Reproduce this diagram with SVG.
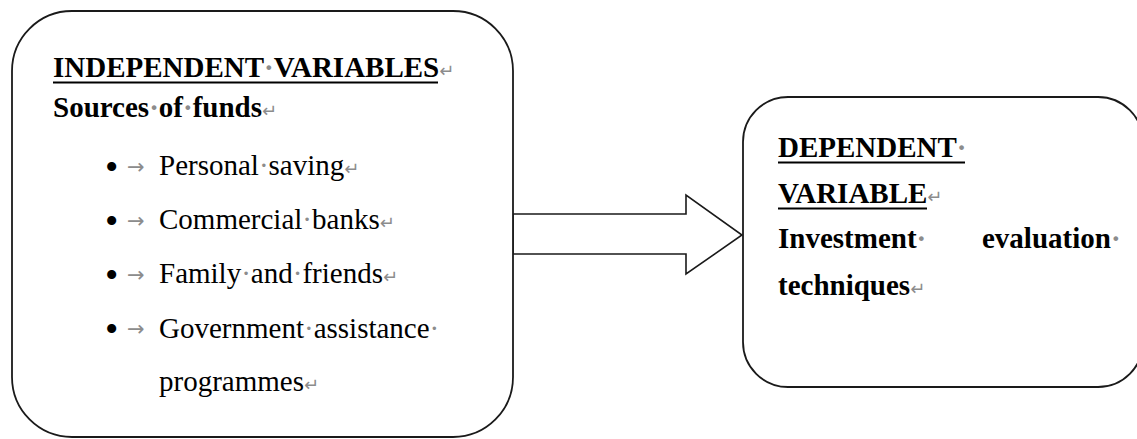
<svg xmlns="http://www.w3.org/2000/svg" width="1137" height="439" viewBox="0 0 1137 439">
<style>
.box{fill:#fff;stroke:#1a1a1a;stroke-width:1.8}
.t{font-family:"Liberation Serif","Times New Roman",serif;font-size:29px;fill:#000}
.b{font-weight:bold}
.m{fill:#8c8c8c}
.pm{fill:#8c8c8c;font-family:"DejaVu Sans",sans-serif;font-size:18px;font-weight:normal}
.tab{fill:#8c8c8c;font-family:"DejaVu Sans",sans-serif;font-size:21px}
.bul{font-family:"Liberation Serif",serif;font-size:38px;fill:#000}
.ul{stroke:#000;stroke-width:2}
.arrow{fill:#fff;stroke:#1a1a1a;stroke-width:1.6;stroke-linejoin:miter}
</style>
<rect width="1137" height="439" fill="#fff"/>
<g id="connectors">
<polygon class="arrow" points="513,214 686,214 686,195 742,235 686,274 686,254 513,254"/>
</g>
<g id="independent">
<rect class="box" x="12" y="11" width="501" height="426" rx="60" ry="60"/>
<text class="t b" x="53" y="77">INDEPENDENT<tspan class="m">·</tspan>VARIABLES<tspan class="pm">↵</tspan></text>
<line class="ul" x1="53" y1="82.5" x2="438" y2="82.5"/>
<text class="t b" x="53" y="117">Sources<tspan class="m">·</tspan>of<tspan class="m">·</tspan>funds<tspan class="pm">↵</tspan></text>
<text class="bul" x="105" y="180">•</text>
<text class="tab" x="127" y="174">→</text>
<text class="t" x="159" y="175">Personal<tspan class="m">·</tspan>saving<tspan class="pm">↵</tspan></text>
<text class="bul" x="105" y="234">•</text>
<text class="tab" x="127" y="228">→</text>
<text class="t" x="159" y="229">Commercial<tspan class="m">·</tspan>banks<tspan class="pm">↵</tspan></text>
<text class="bul" x="105" y="288">•</text>
<text class="tab" x="127" y="282">→</text>
<text class="t" x="159" y="283">Family<tspan class="m">·</tspan>and<tspan class="m">·</tspan>friends<tspan class="pm">↵</tspan></text>
<text class="bul" x="105" y="342">•</text>
<text class="tab" x="127" y="336">→</text>
<text class="t" x="159" y="338">Government<tspan class="m">·</tspan>assistance<tspan class="m">·</tspan></text>
<text class="t" x="159" y="391">programmes<tspan class="pm">↵</tspan></text>
</g>
<g id="dependent">
<rect class="box" x="743" y="97" width="400" height="290" rx="45" ry="45"/>
<text class="t b" x="778" y="157">DEPENDENT<tspan class="m">·</tspan></text>
<line class="ul" x1="778" y1="162.5" x2="965" y2="162.5"/>
<text class="t b" x="778" y="203">VARIABLE<tspan class="pm">↵</tspan></text>
<line class="ul" x1="778" y1="208.5" x2="927" y2="208.5"/>
<text class="t b" x="778" y="248">Investment<tspan class="m">·</tspan><tspan x="982">evaluation</tspan><tspan class="m">·</tspan></text>
<text class="t b" x="778" y="295">techniques<tspan class="pm">↵</tspan></text>
</g>
</svg>
